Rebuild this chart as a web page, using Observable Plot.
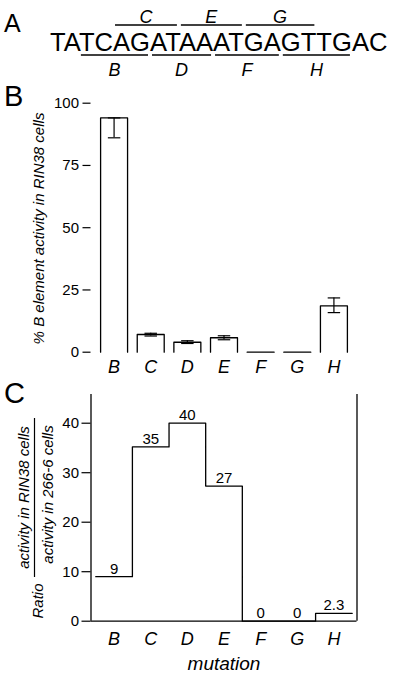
<!DOCTYPE html>
<html><head><meta charset="utf-8">
<script src="https://cdn.jsdelivr.net/npm/d3@7"></script>
<script src="https://cdn.jsdelivr.net/npm/@observablehq/plot@0.6"></script>
<style>
body{margin:0;background:#fff;}
#wrap{position:relative;width:400px;height:676px;font-family:"Liberation Sans",Arial,sans-serif;overflow:hidden;}
#wrap svg{position:absolute;left:0;}
</style></head><body><div id="wrap"></div>
<script>
// ---- data ----
const sequence = "TATCAGATAAATGAGTTGAC";
const mutations = ["B","C","D","E","F","G","H"];
const mutationStart = [2,4,6,8,10,12,14];          // first base of each 4-base block
const mutationSide = ["below","above","below","above","below","above","below"];
const activity   = [94.1, 7.1, 4.0, 5.8, 0, 0, 18.6];   // % B element activity in RIN38 cells
const activityLo = [86.1, 6.5, 3.5, 5.0, 0, 0, 15.9];
const activityHi = [94.1, 7.6, 4.6, 6.6, 0, 0, 21.8];
const activityTicks = [0,25,50,75,100];
const ratio = [9, 35.2, 40, 27.3, 0, 0, 1.6];            // RIN38 / 266-6 ratio (drawn)
const ratioLabels = ["9","35","40","27","0","0","2.3"];
const ratioTicks = [0,10,20,30,40];

const FONT = '"Liberation Sans", Arial, sans-serif';
const xDomain = [-0.63, 6.63];
const idx = mutations.map((d,i)=>i);
const wrap = d3.select("#wrap");

// ---- Panel A: sequence ----
const svgA = wrap.append("svg").style("top","0px").attr("width",400).attr("height",80)
  .attr("font-family",FONT);
svgA.append("text").attr("x",4).attr("y",32).attr("font-size",25).text("A");
const seq = svgA.append("text").attr("x",50).attr("y",50.5).attr("font-size",25.6).text(sequence);
const seqNode = seq.node();
mutations.forEach((m,k)=>{
  const s = mutationStart[k];
  const x1 = seqNode.getStartPositionOfChar(s).x + 2;
  const x2 = seqNode.getEndPositionOfChar(s+3).x - 2;
  const above = mutationSide[k] === "above";
  const ly = above ? 25 : 55;
  svgA.append("line").attr("x1",x1).attr("x2",x2).attr("y1",ly).attr("y2",ly)
    .attr("stroke","black").attr("stroke-width",1.3);
  svgA.append("text").attr("x",(x1+x2)/2).attr("y",above?22.5:75.5)
    .attr("text-anchor","middle").attr("font-style","italic").attr("font-size",18).text(m);
});

// ---- Panel B: bars ----
const halfBar = 0.368, halfCap = 0.17;
const barOutline = idx.flatMap(i=>[
  {m:mutations[i], x:i-halfBar, y:0},
  {m:mutations[i], x:i-halfBar, y:activity[i]},
  {m:mutations[i], x:i+halfBar, y:activity[i]},
  {m:mutations[i], x:i+halfBar, y:0}
]);
const errIdx = idx.filter(i=>activityHi[i] > activityLo[i]);
const capData = errIdx.flatMap(i=>[{i, v:activityLo[i]},{i, v:activityHi[i]}]);

const plotB = Plot.plot({
  width:400, height:300,
  marginLeft:90.5, marginRight:43.5, marginTop:22.7, marginBottom:28.3,
  x:{domain:xDomain},
  y:{domain:[0,100]},
  style:{fontFamily:FONT, background:"transparent", overflow:"visible"},
  marks:[
    Plot.axisY({ticks:activityTicks, tickSize:8, tickPadding:4, fontSize:15, label:null, strokeWidth:1.2}),
    Plot.axisX({ticks:idx, tickFormat:i=>mutations[i], tickSize:0, tickPadding:8, fontSize:18, fontStyle:"italic", label:null}),
    Plot.line(barOutline, {x:"x", y:"y", z:"m", stroke:"black", strokeWidth:1.3}),
    Plot.ruleX(errIdx, {x:i=>i, y1:i=>activityLo[i], y2:i=>activityHi[i], stroke:"black", strokeWidth:1.2}),
    Plot.link(capData, {x1:d=>d.i-halfCap, x2:d=>d.i+halfCap, y1:"v", y2:"v", stroke:"black", strokeWidth:1.2})
  ]
});
plotB.style.top = "80px";
wrap.node().appendChild(plotB);
const sB = d3.select(plotB);
sB.append("text").attr("x",4).attr("y",26).attr("text-anchor","start").attr("font-size",29).attr("fill","black").text("B");
sB.append("text").attr("transform","translate(44,148.5) rotate(-90)").attr("text-anchor","middle")
  .attr("font-size",15).attr("font-style","italic").attr("fill","black")
  .text("% B element activity in RIN38 cells");

// ---- Panel C: ratio steps ----
const stepPts = idx.flatMap(i=>[{x:i-0.5, y:ratio[i]},{x:i+0.5, y:ratio[i]}]);
const plotC = Plot.plot({
  width:400, height:296,
  marginLeft:90.5, marginRight:43.5, marginTop:14, marginBottom:55.3,
  x:{domain:xDomain},
  y:{domain:[0,45.8]},
  style:{fontFamily:FONT, background:"transparent", overflow:"visible"},
  marks:[
    Plot.axisY({ticks:ratioTicks, tickSize:9, tickPadding:3, fontSize:15, label:null, strokeWidth:1.2}),
    Plot.axisX({ticks:idx, tickFormat:i=>mutations[i], tickSize:0, tickPadding:11, fontSize:18, fontStyle:"italic", label:null}),
    Plot.ruleX(xDomain, {stroke:"black", strokeWidth:1.3}),
    Plot.ruleY([0], {stroke:"black", strokeWidth:1.3}),
    Plot.line(stepPts, {x:"x", y:"y", stroke:"black", strokeWidth:1.3}),
    Plot.text(idx, {x:i=>i, y:i=>ratio[i], text:i=>ratioLabels[i], lineAnchor:"bottom", dy:-3, fontSize:15, fill:"black"}),
    Plot.text(["mutation"], {frameAnchor:"bottom", lineAnchor:"bottom", dy:48.3, fontSize:19, fontStyle:"italic", fill:"black"})
  ]
});
plotC.style.top = "380px";
wrap.node().appendChild(plotC);
const sC = d3.select(plotC);
sC.append("text").attr("x",4).attr("y",23.3).attr("text-anchor","start").attr("font-size",29).attr("fill","black").text("C");
sC.append("text").attr("transform","translate(43,221) rotate(-90)").attr("text-anchor","middle")
  .attr("font-size",15).attr("font-style","italic").attr("fill","black").text("Ratio");
sC.append("text").attr("transform","translate(29,117.5) rotate(-90)").attr("text-anchor","middle")
  .attr("font-size",15).attr("font-style","italic").attr("fill","black").text("activity in RIN38 cells");
sC.append("line").attr("x1",34.5).attr("x2",34.5).attr("y1",38).attr("y2",197)
  .attr("stroke","black").attr("stroke-width",1.2);
sC.append("text").attr("transform","translate(53,114.5) rotate(-90)").attr("text-anchor","middle")
  .attr("font-size",15).attr("font-style","italic").attr("fill","black").text("activity in 266-6 cells");

// explicit tick label styling
d3.selectAll('#wrap g[aria-label="x-axis tick label"] text').attr("font-style","italic").attr("font-size",18);
d3.selectAll('#wrap g[aria-label="y-axis tick label"] text').attr("font-size",15);
</script></body></html>
